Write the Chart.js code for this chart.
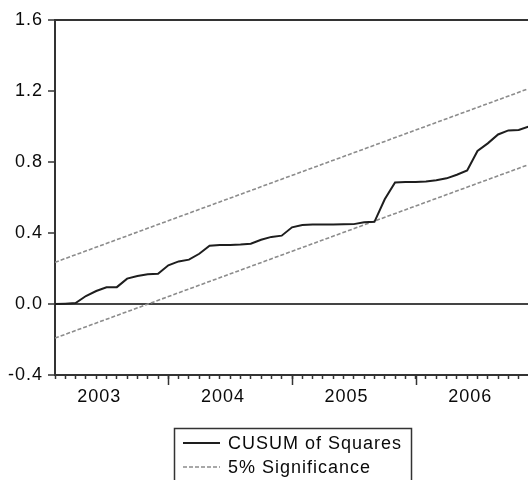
<!DOCTYPE html>
<html>
<head>
<meta charset="utf-8">
<title>CUSUM of Squares</title>
<script src="https://cdn.jsdelivr.net/npm/chart.js@4.4.1/dist/chart.umd.min.js"></script>
<style>
  html,body{margin:0;padding:0;background:#fff;overflow:hidden;}
  #wrap{width:528px;height:480px;overflow:hidden;}
  canvas{display:block;}
</style>
</head>
<body>
<div id="wrap"><canvas id="chart" width="536" height="480"></canvas></div>
<script>
/* monthly obs 2003M02 .. 2006M12, x = month index counted from 2003M02 */
const cusumSq = [
  0.000, 0.002, 0.005, 0.045, 0.073, 0.094, 0.095, 0.143, 0.158, 0.168, 0.170,
  0.218, 0.240, 0.250, 0.283, 0.328, 0.332, 0.333, 0.335, 0.340, 0.362, 0.378,
  0.385, 0.432, 0.445, 0.448, 0.448, 0.448, 0.449, 0.450, 0.460, 0.463, 0.590,
  0.685, 0.688, 0.688, 0.690, 0.697, 0.708, 0.728, 0.752, 0.862, 0.905, 0.955,
  0.978, 0.980, 1.000
];
// 5% band: straight lines, values at first and last obs
const bandAt    = [0, 46];
const upperBand = [0.235, 1.214];
const lowerBand = [-0.192, 0.786];

const yearStarts  = [11, 23, 35];              // Jan 2004 / 2005 / 2006
const yearLabels  = ['2003', '2004', '2005', '2006'];
const yearLabelAt = [4.3, 16.3, 28.3, 40.3];
const yTicks      = [-0.4, 0, 0.4, 0.8, 1.2, 1.6];
const legendNames = ['CUSUM of Squares', '5% Significance'];

const FAMILY = '"Liberation Sans", Arial, sans-serif';
const FONT = '18px ' + FAMILY;
const INK = '#333';
const TEXT = '#0a0a0a';

const pts = (xs, ys) => xs.map((x, i) => ({ x, y: ys[i] }));

/* text in this chart is a bit wide-set */
const spacing = {
  id: 'spacing',
  beforeUpdate(c){ c.ctx.letterSpacing = '1px'; },
  beforeLayout(c){ c.ctx.letterSpacing = '1px'; },
  beforeDraw(c){ c.ctx.letterSpacing = '1px'; }
};

/* longer ticks at the year boundaries */
const yearTicks = {
  id: 'yearTicks',
  afterDraw(c){
    const { ctx, chartArea: a } = c, x = c.scales.x;
    ctx.save();
    ctx.strokeStyle = INK; ctx.lineWidth = 1.5;
    yearStarts.forEach(v => {
      const px = Math.round(x.getPixelForValue(v)) + 0.5;
      ctx.beginPath(); ctx.moveTo(px, a.bottom); ctx.lineTo(px, a.bottom + 10); ctx.stroke();
    });
    ctx.restore();
  }
};

/* boxed legend under the plot */
const legendBox = {
  id: 'legendBox',
  afterDraw(c){
    const ctx = c.ctx, ds = c.data.datasets;
    ctx.save();
    ctx.strokeStyle = INK; ctx.lineWidth = 1.5;
    ctx.strokeRect(174.5, 428.5, 237, 60);
    ctx.font = FONT; ctx.fillStyle = TEXT; ctx.textBaseline = 'alphabetic';
    ctx.letterSpacing = '1px';
    legendNames.forEach((name, i) => {
      const d = ds[i], y = 443 + i * 24;
      ctx.strokeStyle = d.borderColor; ctx.lineWidth = d.borderWidth;
      ctx.setLineDash(d.borderDash || []);
      ctx.beginPath(); ctx.moveTo(183, y); ctx.lineTo(220, y); ctx.stroke();
      ctx.setLineDash([]);
      ctx.fillText(name, 228, y + 6);
    });
    ctx.restore();
  }
};

const isZero = v => Math.abs(v) < 1e-9;
const isTop  = v => v > 1.59;

new Chart(document.getElementById('chart').getContext('2d'), {
  type: 'line',
  data: {
    datasets: [
      { label: legendNames[0], data: pts(cusumSq.map((_, i) => i), cusumSq),
        borderColor: '#1e1e1e', borderWidth: 2, pointRadius: 0, tension: 0, order: 1 },
      { label: legendNames[1], data: pts(bandAt, upperBand),
        borderColor: '#8c8c8c', borderWidth: 1.6, borderDash: [4, 2], pointRadius: 0, order: 2 },
      { label: legendNames[1], data: pts(bandAt, lowerBand),
        borderColor: '#8c8c8c', borderWidth: 1.6, borderDash: [4, 2], pointRadius: 0, order: 2 }
    ]
  },
  options: {
    responsive: false,
    animation: false,
    devicePixelRatio: 1,
    layout: { padding: { top: 20, right: 6, left: 0, bottom: 0 } },
    plugins: { legend: { display: false }, tooltip: { enabled: false } },
    scales: {
      x: {
        type: 'linear', min: 0, max: 46,
        afterBuildTicks(s){
          const t = cusumSq.map((_, i) => ({ value: i }));
          yearLabelAt.forEach(v => t.push({ value: v }));
          t.sort((a, b) => a.value - b.value);
          s.ticks = t;
        },
        afterFit(s){ s.height = 105; },
        ticks: {
          autoSkip: false, maxRotation: 0, padding: 7,
          color: TEXT, font: { family: FAMILY, size: 18 },
          callback: v => { const k = yearLabelAt.indexOf(v); return k < 0 ? '' : yearLabels[k]; }
        },
        grid: {
          drawOnChartArea: false, tickLength: 4, tickWidth: 1.5,
          tickColor: ctx => Number.isInteger(ctx.tick.value) ? INK : 'rgba(0,0,0,0)'
        },
        border: { display: true, color: INK, width: 2 }
      },
      y: {
        min: -0.4, max: 1.6,
        afterBuildTicks(s){ s.ticks = yTicks.map(v => ({ value: v })); },
        afterFit(s){ s.width = 55; },
        ticks: {
          padding: 5, color: TEXT,
          font: { family: FAMILY, size: 18 },
          callback: v => v.toFixed(1)
        },
        grid: {
          tickLength: 7, tickWidth: 1.5, tickColor: INK,
          lineWidth: 2,
          color: ctx => isZero(ctx.tick.value) ? '#444' : isTop(ctx.tick.value) ? INK : 'rgba(0,0,0,0)'
        },
        border: { display: true, color: INK, width: 2 }
      }
    }
  },
  plugins: [spacing, yearTicks, legendBox]
});
</script>
</body>
</html>
